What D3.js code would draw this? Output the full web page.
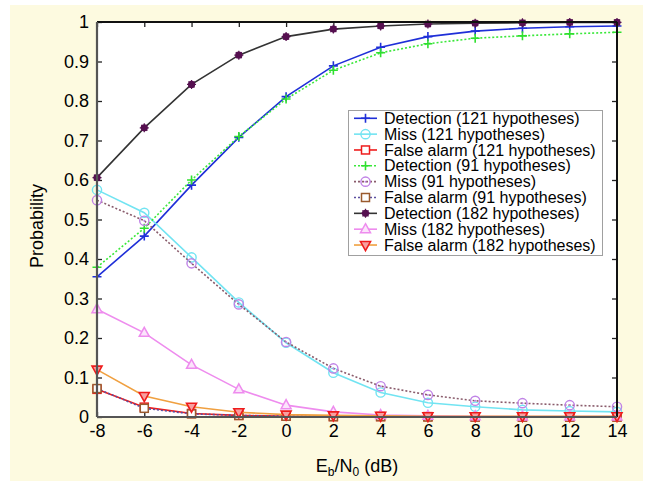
<!DOCTYPE html>
<html>
<head>
<meta charset="utf-8">
<script src="https://cdn.jsdelivr.net/npm/d3@7"></script>
<style>
body { margin: 0; background: #ffffff; }
text { font-family: "Liberation Sans", Arial, sans-serif; fill: #000; }
</style>
</head>
<body>
<script>
// x values (Eb/N0 in dB)
var ebn0 = [-8, -6, -4, -2, 0, 2, 4, 6, 8, 10, 12, 14];

var det121  = [0.355, 0.458, 0.587, 0.708, 0.811, 0.889, 0.936, 0.963, 0.977, 0.984, 0.988, 0.990];
var miss121 = [0.575, 0.517, 0.404, 0.290, 0.188, 0.112, 0.062, 0.036, 0.026, 0.018, 0.015, 0.013];
var fa121   = [0.070, 0.025, 0.009, 0.004, 0.002, 0.001, 0.001, 0.001, 0.000, 0.000, 0.000, 0.000];
var det91   = [0.379, 0.478, 0.600, 0.710, 0.805, 0.878, 0.922, 0.945, 0.959, 0.965, 0.970, 0.974];
var miss91  = [0.549, 0.497, 0.389, 0.285, 0.190, 0.123, 0.078, 0.056, 0.041, 0.035, 0.030, 0.026];
var fa91    = [0.072, 0.022, 0.008, 0.004, 0.002, 0.001, 0.001, 0.000, 0.000, 0.000, 0.000, 0.000];
var det182  = [0.606, 0.732, 0.842, 0.916, 0.963, 0.982, 0.990, 0.995, 0.997, 0.998, 0.999, 0.999];
var miss182 = [0.273, 0.213, 0.132, 0.070, 0.030, 0.013, 0.005, 0.003, 0.002, 0.001, 0.001, 0.001];
var fa182   = [0.120, 0.053, 0.026, 0.012, 0.006, 0.004, 0.003, 0.002, 0.002, 0.002, 0.002, 0.002];

var legendLabels = [
	"Detection (121 hypotheses)",
	"Miss (121 hypotheses)",
	"False alarm (121 hypotheses)",
	"Detection (91 hypotheses)",
	"Miss (91 hypotheses)",
	"False alarm (91 hypotheses)",
	"Detection (182 hypotheses)",
	"Miss (182 hypotheses)",
	"False alarm (182 hypotheses)"
];

var xTicks = [-8, -6, -4, -2, 0, 2, 4, 6, 8, 10, 12, 14];
var yTicks = [0, 0.1, 0.2, 0.3, 0.4, 0.5, 0.6, 0.7, 0.8, 0.9, 1];

// line + marker styles, same order as the legend
var series = [
	{ values: det121,  line: "#1f2fd8", dash: null,  marker: "plus",   mcolor: "#1f2fd8" },
	{ values: miss121, line: "#72e4f2", dash: null,  marker: "circle", mcolor: "#72e4f2" },
	{ values: fa121,   line: "#ee1c1c", dash: null,  marker: "square", mcolor: "#ee1c1c" },
	{ values: det91,   line: "#3ae83a", dash: "2,2", marker: "plus",   mcolor: "#2fe02f" },
	{ values: miss91,  line: "#8a5c6c", dash: "2,2", marker: "circdot",mcolor: "#c083e6" },
	{ values: fa91,    line: "#5b4fa0", dash: "2,2", marker: "square", mcolor: "#9a5a2e" },
	{ values: det182,  line: "#333333", dash: null,  marker: "star",   mcolor: "#561050" },
	{ values: miss182, line: "#ee8cee", dash: null,  marker: "tri",    mcolor: "#ee8cee" },
	{ values: fa182,   line: "#f0a040", dash: null,  marker: "trid",   mcolor: "#ee1c1c" }
];

var W = 649, H = 481;
var pLeft = 97, pRight = 617, pTop = 22, pBottom = 417;

var svg = d3.select("body").append("svg")
	.attr("width", W)
	.attr("height", H);

// cream panel
svg.append("rect")
	.attr("x", 10).attr("y", 5)
	.attr("width", 633).attr("height", 476)
	.style("fill", "#fdfae0");

svg.append("rect")
	.attr("x", pLeft).attr("y", pTop)
	.attr("width", pRight - pLeft).attr("height", pBottom - pTop)
	.style("fill", "#ffffff");

var x = d3.scaleLinear().domain([-8, 14]).range([pLeft, pRight]);
var y = d3.scaleLinear().domain([0, 1]).range([pBottom, pTop]);

var fmt = function(d) { return String(Math.round(d * 10) / 10); };

var gx = svg.append("g")
	.attr("transform", "translate(0," + pBottom + ")")
	.call(d3.axisBottom(x).tickValues(xTicks).tickSize(-5).tickPadding(7).tickFormat(fmt));
var gy = svg.append("g")
	.attr("transform", "translate(" + pLeft + ",0)")
	.call(d3.axisLeft(y).tickValues(yTicks).tickSize(-5).tickPadding(8).tickFormat(fmt));
var gt = svg.append("g")
	.attr("transform", "translate(0," + pTop + ")")
	.call(d3.axisTop(x).tickValues(xTicks).tickSize(-5).tickFormat(""));
var gr = svg.append("g")
	.attr("transform", "translate(" + pRight + ",0)")
	.call(d3.axisRight(y).tickValues(yTicks).tickSize(-5).tickFormat(""));

[gx, gy, gt, gr].forEach(function(g) {
	g.select(".domain").remove();
	g.selectAll(".tick line").style("stroke", "#222").style("stroke-width", 1.3);
	g.selectAll(".tick text")
		.style("font-size", "18px")
		.style("font-family", "'Liberation Sans', Arial, sans-serif")
		.style("fill", "#000");
});

function drawMarker(g, type, cx, cy, color) {
	var s = 4.5;
	if (type == "plus") {
		g.append("path")
		.attr("d", "M" + (cx - s) + "," + cy + "H" + (cx + s) + "M" + cx + "," + (cy - s) + "V" + (cy + s))
		.style("stroke", color).style("stroke-width", 1.6).style("fill", "none");
	} else if (type == "circle" || type == "circdot") {
		g.append("circle")
		.attr("cx", cx).attr("cy", cy).attr("r", 4.6)
		.style("stroke", color).style("stroke-width", 1.4).style("fill", "none");
		if (type == "circdot") {
			g.append("circle")
			.attr("cx", cx).attr("cy", cy).attr("r", 1)
			.style("fill", color);
		}
	} else if (type == "square") {
		g.append("rect")
		.attr("x", cx - 4).attr("y", cy - 4)
		.attr("width", 8).attr("height", 8)
		.style("stroke", color).style("stroke-width", 1.5).style("fill", "#ffffff");
	} else if (type == "star") {
		g.append("circle")
		.attr("cx", cx).attr("cy", cy).attr("r", 3.6)
		.style("fill", color);
		g.append("path")
		.attr("d", "M" + (cx - s) + "," + cy + "H" + (cx + s) + "M" + cx + "," + (cy - s) + "V" + (cy + s)
			+ "M" + (cx - 3) + "," + (cy - 3) + "L" + (cx + 3) + "," + (cy + 3)
			+ "M" + (cx - 3) + "," + (cy + 3) + "L" + (cx + 3) + "," + (cy - 3))
		.style("stroke", color).style("stroke-width", 1.2).style("fill", "none");
	} else if (type == "tri") {
		g.append("path")
		.attr("d", "M" + cx + "," + (cy - 5.5) + "L" + (cx + 5) + "," + (cy + 3.5) + "L" + (cx - 5) + "," + (cy + 3.5) + "Z")
		.style("stroke", color).style("stroke-width", 1.5).style("fill", "#fbe4fb");
	} else if (type == "trid") {
		g.append("path")
		.attr("d", "M" + cx + "," + (cy + 5.5) + "L" + (cx + 5) + "," + (cy - 3.5) + "L" + (cx - 5) + "," + (cy - 3.5) + "Z")
		.style("stroke", color).style("stroke-width", 1.6).style("fill", "#f7a0a0");
	}
}

var line = d3.line()
	.x(function(d, i) { return x(ebn0[i]); })
	.y(function(d) { return y(d); });

var plot = svg.append("g").attr("class", "plot");

series.forEach(function(s) {
	var g = plot.append("g");
	g.append("path")
		.attr("d", line(s.values))
		.style("fill", "none")
		.style("stroke", s.line)
		.style("stroke-width", 1.6)
		.style("stroke-dasharray", s.dash);
	s.values.forEach(function(v, i) {
		drawMarker(g, s.marker, x(ebn0[i]), y(v), s.mcolor);
	});
});

// frame
svg.append("line").attr("x1", pLeft).attr("y1", pTop).attr("x2", pRight).attr("y2", pTop)
	.style("stroke", "#111").style("stroke-width", 2);
svg.append("line").attr("x1", pRight).attr("y1", pTop).attr("x2", pRight).attr("y2", pBottom)
	.style("stroke", "#111").style("stroke-width", 2);
svg.append("line").attr("x1", pLeft).attr("y1", pBottom).attr("x2", pRight).attr("y2", pBottom)
	.style("stroke", "#555").style("stroke-width", 2.2);
svg.append("line").attr("x1", pLeft).attr("y1", pTop).attr("x2", pLeft).attr("y2", pBottom)
	.style("stroke", "#555").style("stroke-width", 2.2);

// legend
var lg = svg.append("g").attr("class", "legend");
lg.append("rect")
	.attr("x", 348.5).attr("y", 110.5)
	.attr("width", 254).attr("height", 145)
	.style("fill", "#ffffff")
	.style("stroke", "#a0a0a0")
	.style("stroke-width", 1);

var ly0 = 118.3, lstep = 15.84;
series.forEach(function(s, i) {
	var ly = ly0 + i * lstep;
	lg.append("line")
		.attr("x1", 354).attr("y1", ly).attr("x2", 377).attr("y2", ly)
		.style("stroke", s.line)
		.style("stroke-width", 1.6)
		.style("stroke-dasharray", s.dash);
	drawMarker(lg, s.marker, 365.5, ly, s.mcolor);
	lg.append("text")
		.attr("x", 384)
		.attr("y", ly + 5.6)
		.style("font-size", "16px")
		.text(legendLabels[i]);
});

// axis labels
var xl = svg.append("text")
	.attr("x", 357)
	.attr("y", 472)
	.style("text-anchor", "middle")
	.style("font-size", "18px");
xl.append("tspan").text("E");
xl.append("tspan").attr("dy", 4).style("font-size", "12px").text("b");
xl.append("tspan").attr("dy", -4).text("/N");
xl.append("tspan").attr("dy", 4).style("font-size", "12px").text("0");
xl.append("tspan").attr("dy", -4).text(" (dB)");

svg.append("text")
	.attr("transform", "translate(43,226) rotate(-90)")
	.style("text-anchor", "middle")
	.style("font-size", "18px")
	.text("Probability");
</script>
</body>
</html>
